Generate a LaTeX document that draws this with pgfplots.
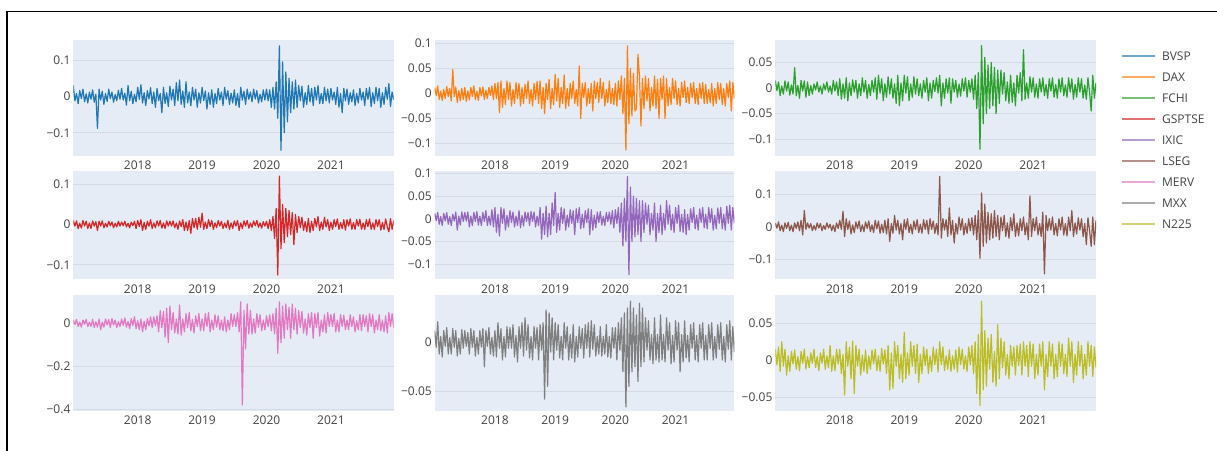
\documentclass[border=0pt]{standalone}
\usepackage{pgfplots}
\pgfplotsset{compat=1.18}
\usepackage{pgfplotstable}
\usepackage{fontspec}
\setmainfont{Open Sans}
\definecolor{c1}{HTML}{1F77B4}
\definecolor{c2}{HTML}{FF7F0E}
\definecolor{c3}{HTML}{2CA02C}
\definecolor{c4}{HTML}{D62728}
\definecolor{c5}{HTML}{9467BD}
\definecolor{c6}{HTML}{8C564B}
\definecolor{c7}{HTML}{E377C2}
\definecolor{c8}{HTML}{7F7F7F}
\definecolor{c9}{HTML}{BCBD22}
\definecolor{bgc}{HTML}{E5ECF6}
\definecolor{gridc}{HTML}{D5DBE4}
\definecolor{tickc}{HTML}{444444}

\pgfplotstableread[header=false,row sep=\\]{
0.03\\-0.012\\0.008\\-0.02\\0.016\\-0.006\\0.02\\-0.015\\0.007\\-0.018\\
0.012\\-0.008\\0.018\\-0.016\\0.006\\-0.088\\0.02\\-0.01\\0.014\\-0.022\\
0.008\\-0.014\\0.02\\-0.006\\0.012\\-0.016\\0.005\\-0.012\\0.017\\-0.008\\
0.022\\-0.01\\0.009\\-0.024\\0.03\\-0.012\\0.014\\-0.02\\0.006\\-0.015\\
0.025\\-0.008\\0.032\\-0.018\\0.01\\-0.025\\0.016\\-0.007\\0.024\\-0.02\\
0.012\\-0.03\\0.022\\-0.012\\0.008\\-0.045\\0.025\\-0.02\\0.01\\-0.028\\
0.028\\-0.01\\0.02\\-0.025\\0.038\\-0.012\\0.045\\-0.022\\0.015\\-0.03\\
0.04\\-0.018\\0.012\\-0.026\\0.025\\-0.01\\0.02\\-0.03\\0.01\\-0.018\\
0.025\\-0.012\\0.015\\-0.035\\0.01\\-0.022\\0.018\\-0.03\\0.008\\-0.02\\
0.022\\-0.01\\0.012\\-0.025\\0.025\\-0.008\\0.016\\-0.022\\0.009\\-0.018\\
0.018\\-0.025\\0.008\\-0.03\\0.025\\-0.01\\0.014\\-0.022\\0.02\\-0.008\\
0.012\\-0.015\\0.02\\-0.007\\0.016\\-0.018\\0.006\\-0.015\\0.018\\-0.01\\
0.02\\-0.012\\0.018\\-0.03\\0.025\\-0.035\\0.04\\-0.06\\0.139\\-0.148\\
0.095\\-0.1\\0.067\\-0.07\\0.05\\-0.045\\0.04\\-0.035\\0.045\\-0.03\\
0.03\\-0.012\\0.028\\-0.03\\0.01\\-0.022\\0.03\\-0.015\\0.022\\-0.025\\
0.025\\-0.01\\0.03\\-0.02\\0.008\\-0.02\\0.025\\-0.012\\0.02\\-0.018\\
0.022\\-0.01\\0.012\\-0.022\\0.025\\-0.03\\0.008\\-0.045\\0.022\\-0.012\\
0.02\\-0.022\\0.01\\-0.015\\0.018\\-0.025\\0.008\\-0.018\\0.022\\-0.01\\
0.012\\-0.025\\0.022\\-0.008\\0.025\\-0.028\\0.01\\-0.02\\0.025\\-0.012\\
0.022\\-0.03\\0.01\\-0.022\\0.025\\-0.008\\0.035\\-0.028\\0.012\\-0.01\\
}\bvsp

\pgfplotstableread[header=false,row sep=\\]{
0.012\\-0.004\\0.015\\-0.012\\0.005\\-0.014\\0.008\\-0.01\\0.014\\-0.006\\
0.01\\-0.015\\0.048\\-0.006\\0.013\\-0.018\\0.006\\-0.015\\0.01\\-0.012\\
0.012\\-0.016\\0.005\\-0.013\\0.012\\-0.006\\0.015\\-0.012\\0.004\\-0.014\\
0.012\\-0.005\\0.013\\-0.012\\0.006\\-0.01\\0.012\\-0.004\\0.015\\-0.012\\
0.02\\-0.01\\0.022\\-0.038\\0.025\\-0.028\\0.01\\-0.022\\0.025\\-0.012\\
0.022\\-0.025\\0.008\\-0.02\\0.022\\-0.01\\0.02\\-0.025\\0.012\\-0.02\\
0.018\\-0.01\\0.025\\-0.02\\0.008\\-0.025\\0.02\\-0.012\\0.024\\-0.02\\
0.025\\-0.03\\0.012\\-0.04\\0.02\\-0.012\\0.028\\-0.03\\0.01\\-0.022\\
0.038\\-0.015\\0.03\\-0.028\\0.012\\-0.02\\0.037\\-0.03\\0.01\\-0.025\\
0.02\\-0.01\\0.025\\-0.02\\0.008\\-0.025\\0.055\\-0.05\\0.02\\-0.008\\
0.022\\-0.025\\0.01\\-0.02\\0.02\\-0.035\\0.025\\-0.01\\0.022\\-0.018\\
0.03\\-0.01\\0.022\\-0.025\\0.008\\-0.018\\0.025\\-0.02\\0.01\\-0.022\\
0.02\\-0.025\\0.025\\-0.012\\0.035\\-0.04\\0.03\\-0.113\\0.095\\-0.06\\
0.05\\-0.045\\0.04\\-0.035\\-0.03\\0.078\\0.035\\-0.065\\0.03\\-0.03\\
0.035\\-0.015\\0.03\\-0.035\\0.012\\-0.025\\0.035\\-0.03\\0.028\\-0.05\\
0.03\\-0.012\\0.035\\-0.05\\0.03\\-0.025\\0.012\\-0.022\\0.03\\-0.01\\
0.025\\-0.022\\0.01\\-0.025\\0.022\\-0.008\\0.025\\-0.018\\0.012\\-0.02\\
0.02\\-0.008\\0.022\\-0.02\\0.01\\-0.022\\0.02\\-0.01\\0.022\\-0.02\\
0.018\\-0.02\\0.008\\-0.018\\0.02\\-0.025\\0.01\\-0.02\\0.022\\-0.012\\
0.02\\-0.022\\0.01\\-0.025\\0.02\\-0.008\\0.025\\-0.035\\0.022\\-0.01\\
}\dax

\pgfplotstableread[header=false,row sep=\\]{
0.015\\-0.005\\0.012\\-0.015\\0.004\\-0.012\\0.014\\-0.006\\0.012\\-0.014\\
0.006\\-0.012\\0.04\\-0.015\\0.005\\-0.02\\0.015\\-0.006\\0.014\\-0.018\\
0.012\\-0.015\\0.005\\-0.012\\0.008\\-0.004\\0.012\\-0.008\\0.004\\-0.012\\
0.008\\-0.004\\0.012\\-0.008\\0.004\\-0.012\\0.015\\-0.006\\0.012\\-0.015\\
0.018\\-0.022\\0.008\\-0.02\\0.02\\-0.025\\0.01\\-0.015\\0.016\\-0.008\\
0.015\\-0.02\\0.008\\-0.015\\0.02\\-0.008\\0.015\\-0.02\\0.007\\-0.015\\
0.015\\-0.008\\0.02\\-0.022\\0.025\\-0.01\\0.018\\-0.025\\0.008\\-0.018\\
0.022\\-0.012\\0.018\\-0.02\\0.008\\-0.03\\0.025\\-0.035\\0.01\\-0.025\\
0.025\\-0.01\\0.022\\-0.025\\0.008\\-0.018\\0.022\\-0.012\\0.018\\-0.015\\
0.008\\-0.02\\0.015\\-0.008\\0.02\\-0.025\\0.01\\-0.02\\0.015\\-0.007\\
0.02\\-0.01\\0.025\\-0.035\\0.01\\-0.02\\0.018\\-0.01\\0.02\\-0.03\\
0.018\\-0.008\\0.015\\-0.018\\0.008\\-0.016\\0.018\\-0.006\\0.02\\-0.018\\
0.015\\-0.008\\0.018\\-0.022\\0.025\\-0.04\\0.03\\-0.12\\0.083\\-0.07\\
0.06\\-0.05\\0.045\\-0.04\\0.05\\-0.035\\0.04\\-0.05\\0.035\\-0.03\\
0.035\\-0.012\\0.03\\-0.025\\0.012\\-0.03\\0.025\\-0.028\\0.01\\-0.035\\
0.025\\-0.01\\0.03\\-0.025\\0.075\\-0.022\\0.01\\-0.02\\0.022\\-0.008\\
0.02\\-0.018\\0.008\\-0.02\\0.018\\-0.008\\0.02\\-0.015\\0.007\\-0.02\\
0.018\\-0.006\\0.02\\-0.018\\0.007\\-0.02\\0.018\\-0.008\\0.02\\-0.015\\
0.006\\-0.018\\0.02\\-0.008\\0.018\\-0.022\\0.007\\-0.018\\0.02\\-0.008\\
0.018\\-0.02\\0.006\\-0.022\\0.02\\-0.008\\-0.045\\0.025\\-0.02\\0.01\\
}\fchi

\pgfplotstableread[header=false,row sep=\\]{
0.01\\-0.004\\0.009\\-0.01\\0.003\\-0.009\\0.01\\-0.004\\0.008\\-0.01\\
0.004\\-0.01\\0.009\\-0.004\\0.007\\-0.015\\0.008\\-0.004\\0.009\\-0.008\\
0.003\\-0.006\\0.008\\-0.003\\0.006\\-0.008\\0.003\\-0.006\\0.008\\-0.004\\
0.006\\-0.003\\0.008\\-0.006\\0.003\\-0.008\\0.006\\-0.003\\0.008\\-0.01\\
0.01\\-0.005\\0.012\\-0.015\\0.005\\-0.012\\0.008\\-0.004\\0.012\\-0.01\\
0.004\\-0.008\\0.009\\-0.004\\0.01\\-0.009\\0.004\\-0.01\\0.009\\-0.004\\
0.008\\-0.004\\0.009\\-0.008\\0.004\\-0.012\\0.009\\-0.005\\0.012\\-0.015\\
0.006\\-0.015\\0.01\\-0.022\\0.015\\-0.008\\0.015\\-0.012\\0.018\\-0.007\\
0.028\\-0.012\\0.006\\-0.01\\0.012\\-0.005\\0.01\\-0.012\\0.004\\-0.008\\
0.01\\-0.004\\0.008\\-0.01\\0.004\\-0.008\\0.01\\-0.012\\0.004\\-0.01\\
0.009\\-0.004\\0.01\\-0.015\\0.004\\-0.01\\0.009\\-0.004\\0.01\\-0.009\\
0.004\\-0.007\\0.009\\-0.003\\0.01\\-0.007\\0.004\\-0.009\\0.007\\-0.004\\
0.008\\-0.01\\0.012\\-0.015\\0.02\\-0.035\\0.04\\-0.125\\0.12\\-0.06\\
0.05\\-0.045\\0.04\\-0.03\\0.035\\-0.025\\0.03\\-0.05\\0.025\\-0.02\\
0.02\\-0.008\\0.018\\-0.015\\0.007\\-0.018\\0.015\\-0.02\\0.008\\-0.015\\
0.015\\-0.006\\0.02\\-0.015\\0.006\\-0.012\\0.018\\-0.006\\0.012\\-0.015\\
0.006\\-0.012\\0.012\\-0.005\\0.014\\-0.012\\0.005\\-0.01\\0.012\\-0.014\\
0.012\\-0.004\\0.014\\-0.012\\0.005\\-0.012\\0.012\\-0.004\\0.013\\-0.012\\
0.004\\-0.012\\0.012\\-0.005\\0.014\\-0.012\\0.004\\-0.012\\0.012\\-0.005\\
0.012\\-0.014\\0.005\\-0.012\\0.014\\-0.006\\-0.018\\0.015\\-0.012\\0.01\\
}\gsptse

\pgfplotstableread[header=false,row sep=\\]{
0.012\\-0.004\\0.014\\-0.012\\0.005\\-0.015\\0.012\\-0.005\\0.014\\-0.012\\
0.005\\-0.015\\0.01\\-0.005\\0.015\\-0.025\\0.006\\-0.014\\0.015\\-0.006\\
0.014\\-0.005\\0.015\\-0.018\\0.006\\-0.015\\0.014\\-0.006\\0.016\\-0.014\\
0.006\\-0.015\\0.014\\-0.006\\0.018\\-0.015\\0.006\\-0.014\\0.02\\-0.018\\
0.025\\-0.03\\0.01\\-0.038\\0.025\\-0.01\\0.022\\-0.025\\0.008\\-0.018\\
0.018\\-0.008\\0.015\\-0.018\\0.006\\-0.015\\0.018\\-0.02\\0.007\\-0.016\\
0.015\\-0.006\\0.014\\-0.015\\0.016\\-0.006\\0.015\\-0.018\\0.006\\-0.015\\
0.025\\-0.045\\0.012\\-0.035\\0.028\\-0.04\\0.012\\-0.035\\0.035\\-0.015\\
0.058\\-0.03\\0.012\\-0.025\\0.025\\-0.01\\0.022\\-0.025\\0.008\\-0.018\\
0.02\\-0.01\\0.018\\-0.035\\0.022\\-0.008\\0.025\\-0.022\\0.01\\-0.02\\
0.018\\-0.008\\0.022\\-0.035\\0.02\\-0.025\\0.008\\-0.02\\0.015\\-0.008\\
0.016\\-0.014\\0.006\\-0.015\\0.014\\-0.006\\0.015\\-0.012\\0.018\\-0.02\\
0.02\\-0.01\\0.025\\-0.03\\0.035\\-0.06\\0.045\\-0.05\\0.093\\-0.123\\
0.07\\-0.05\\0.05\\-0.04\\0.045\\-0.035\\0.04\\-0.05\\0.04\\-0.03\\
0.035\\-0.012\\0.03\\-0.035\\0.012\\-0.025\\0.035\\-0.05\\0.012\\-0.03\\
0.03\\-0.035\\0.012\\-0.025\\0.04\\-0.012\\0.03\\-0.025\\0.01\\-0.03\\
0.025\\-0.01\\0.03\\-0.028\\0.01\\-0.03\\0.02\\-0.035\\0.01\\-0.025\\
0.022\\-0.008\\0.025\\-0.022\\0.008\\-0.025\\0.022\\-0.008\\0.025\\-0.02\\
0.01\\-0.022\\0.025\\-0.008\\0.022\\-0.025\\0.008\\-0.022\\0.024\\-0.01\\
0.025\\-0.022\\0.01\\-0.025\\0.028\\-0.01\\0.03\\-0.025\\0.025\\-0.01\\
}\ixic

\pgfplotstableread[header=false,row sep=\\]{
0.012\\-0.004\\0.015\\-0.012\\0.005\\-0.015\\0.012\\-0.005\\0.014\\-0.012\\
0.005\\-0.015\\0.012\\-0.005\\0.015\\-0.012\\0.02\\-0.025\\0.05\\-0.008\\
0.012\\-0.004\\0.01\\-0.012\\0.004\\-0.01\\0.012\\-0.004\\0.01\\-0.012\\
0.004\\-0.008\\0.012\\-0.004\\0.008\\-0.012\\0.005\\-0.015\\0.012\\-0.005\\
0.02\\-0.008\\0.048\\-0.03\\0.025\\-0.008\\0.018\\-0.022\\0.006\\-0.018\\
0.015\\-0.005\\0.018\\-0.015\\0.006\\-0.015\\0.015\\-0.005\\0.018\\-0.015\\
0.006\\-0.018\\0.02\\-0.006\\0.018\\-0.02\\0.008\\-0.018\\0.02\\-0.022\\
0.025\\-0.045\\0.01\\-0.02\\0.035\\-0.01\\0.02\\-0.022\\0.01\\-0.04\\
0.022\\-0.008\\0.025\\-0.018\\0.008\\-0.022\\0.018\\-0.008\\0.022\\-0.018\\
0.008\\-0.02\\0.022\\-0.008\\0.02\\-0.022\\0.025\\-0.008\\0.018\\-0.02\\
0.01\\-0.025\\0.155\\-0.035\\0.025\\-0.01\\0.022\\-0.03\\0.058\\-0.025\\
0.02\\-0.05\\0.01\\-0.022\\0.03\\-0.01\\0.025\\-0.025\\0.01\\-0.02\\
0.025\\-0.012\\0.028\\-0.025\\0.035\\-0.04\\0.05\\-0.097\\0.104\\-0.06\\
0.07\\-0.05\\0.045\\-0.04\\0.04\\-0.035\\0.05\\-0.03\\0.035\\-0.04\\
0.03\\-0.012\\0.035\\-0.03\\0.012\\-0.035\\0.028\\-0.012\\0.04\\-0.03\\
0.012\\-0.028\\0.025\\-0.012\\0.03\\-0.025\\0.012\\-0.04\\0.095\\-0.03\\
0.025\\-0.012\\0.03\\-0.025\\0.01\\-0.03\\0.045\\-0.145\\0.035\\-0.012\\
0.025\\-0.01\\0.03\\-0.025\\0.01\\-0.028\\0.025\\-0.01\\0.03\\-0.025\\
0.01\\-0.028\\0.03\\-0.012\\0.05\\-0.03\\0.012\\-0.022\\0.028\\-0.01\\
0.025\\-0.03\\0.01\\-0.055\\0.028\\-0.012\\-0.06\\0.03\\-0.055\\0.02\\
}\lseg

\pgfplotstableread[header=false,row sep=\\]{
0.015\\-0.006\\0.018\\-0.015\\0.006\\-0.018\\0.015\\-0.005\\0.018\\-0.015\\
0.006\\-0.015\\0.018\\-0.02\\0.007\\-0.018\\0.02\\-0.03\\0.006\\-0.018\\
0.02\\-0.008\\0.018\\-0.02\\0.022\\-0.008\\0.015\\-0.02\\0.008\\-0.015\\
0.02\\-0.01\\0.025\\-0.018\\0.008\\-0.025\\0.022\\-0.01\\0.03\\-0.025\\
0.012\\-0.03\\0.02\\-0.04\\0.01\\-0.03\\0.022\\-0.012\\0.03\\-0.02\\
0.03\\-0.012\\0.035\\-0.04\\0.06\\-0.02\\0.055\\-0.065\\0.07\\-0.09\\
0.08\\-0.03\\0.05\\-0.045\\0.02\\-0.05\\0.085\\-0.055\\0.02\\-0.04\\
0.045\\-0.02\\0.05\\-0.035\\0.018\\-0.045\\0.035\\-0.015\\0.045\\-0.035\\
0.02\\-0.035\\0.045\\-0.015\\0.05\\-0.04\\0.015\\-0.03\\0.04\\-0.018\\
0.035\\-0.03\\0.015\\-0.035\\0.03\\-0.04\\0.015\\-0.03\\0.045\\-0.015\\
0.04\\-0.015\\0.05\\-0.04\\0.1\\-0.38\\0.06\\-0.12\\0.09\\-0.05\\
0.06\\-0.05\\0.02\\-0.045\\0.045\\-0.018\\0.04\\-0.035\\0.015\\-0.03\\
0.035\\-0.015\\0.04\\-0.035\\0.045\\-0.05\\0.07\\-0.14\\0.1\\-0.09\\
0.08\\-0.07\\0.09\\-0.03\\0.075\\-0.07\\0.09\\-0.03\\0.07\\-0.05\\
0.06\\-0.02\\0.055\\-0.045\\0.02\\-0.055\\0.045\\-0.02\\0.05\\-0.07\\
0.045\\-0.02\\0.05\\-0.06\\0.015\\-0.04\\0.04\\-0.045\\0.05\\-0.015\\
0.04\\-0.015\\0.045\\-0.04\\0.015\\-0.04\\0.04\\-0.015\\0.038\\-0.03\\
0.015\\-0.03\\0.04\\-0.015\\0.03\\-0.04\\0.012\\-0.03\\0.04\\-0.035\\
0.04\\-0.015\\0.035\\-0.04\\0.045\\-0.015\\0.04\\-0.045\\0.015\\-0.03\\
0.04\\-0.035\\0.015\\-0.04\\0.035\\-0.045\\0.05\\-0.015\\0.045\\-0.02\\
}\merv

\pgfplotstableread[header=false,row sep=\\]{
0.012\\-0.005\\0.021\\-0.012\\0.006\\-0.015\\0.012\\-0.004\\0.015\\-0.012\\
0.005\\-0.012\\0.014\\-0.005\\0.012\\-0.014\\0.004\\-0.012\\0.013\\-0.006\\
0.012\\-0.004\\0.01\\-0.012\\0.014\\-0.005\\0.012\\-0.014\\0.005\\-0.012\\
0.012\\-0.005\\0.014\\-0.025\\0.012\\-0.004\\0.015\\-0.012\\0.005\\-0.014\\
0.012\\-0.015\\0.02\\-0.006\\0.014\\-0.018\\0.006\\-0.015\\0.016\\-0.006\\
0.015\\-0.006\\0.018\\-0.015\\0.007\\-0.02\\0.016\\-0.006\\0.02\\-0.014\\
0.025\\-0.008\\0.018\\-0.016\\0.006\\-0.018\\0.016\\-0.006\\0.015\\-0.018\\
0.018\\-0.008\\0.02\\-0.058\\0.033\\-0.045\\0.03\\-0.01\\0.025\\-0.018\\
0.02\\-0.008\\0.018\\-0.016\\0.006\\-0.018\\0.02\\-0.006\\0.016\\-0.018\\
0.008\\-0.016\\0.018\\-0.02\\0.006\\-0.015\\0.016\\-0.006\\0.014\\-0.016\\
0.018\\-0.006\\0.02\\-0.015\\0.022\\-0.007\\0.018\\-0.014\\0.006\\-0.012\\
0.016\\-0.014\\0.006\\-0.012\\0.018\\-0.015\\0.006\\-0.016\\0.015\\-0.006\\
0.015\\-0.018\\0.02\\-0.008\\0.025\\-0.03\\0.03\\-0.066\\0.035\\-0.045\\
0.042\\-0.03\\0.035\\-0.025\\0.028\\-0.04\\0.04\\-0.025\\0.035\\-0.02\\
0.025\\-0.008\\0.022\\-0.018\\0.008\\-0.022\\0.025\\-0.018\\0.008\\-0.02\\
0.028\\-0.018\\0.008\\-0.02\\0.025\\-0.008\\0.02\\-0.022\\0.007\\-0.02\\
0.022\\-0.008\\0.02\\-0.03\\0.008\\-0.02\\0.022\\-0.016\\0.007\\-0.02\\
0.018\\-0.006\\0.02\\-0.018\\0.007\\-0.02\\0.018\\-0.006\\0.02\\-0.018\\
0.007\\-0.018\\0.018\\-0.006\\0.02\\-0.018\\0.006\\-0.016\\0.018\\-0.007\\
0.02\\-0.018\\0.006\\-0.02\\0.018\\-0.007\\0.022\\-0.018\\0.016\\-0.01\\
}\mxx

\pgfplotstableread[header=false,row sep=\\]{
0.015\\-0.006\\0.018\\-0.015\\0.025\\-0.008\\0.015\\-0.02\\0.006\\-0.015\\
0.012\\-0.005\\0.014\\-0.012\\0.005\\-0.014\\0.012\\-0.004\\0.015\\-0.012\\
0.005\\-0.01\\0.01\\-0.004\\0.015\\-0.01\\0.005\\-0.014\\0.01\\-0.004\\
0.015\\-0.012\\0.006\\-0.01\\0.02\\-0.015\\0.006\\-0.014\\0.015\\-0.005\\
0.015\\-0.018\\0.008\\-0.047\\0.025\\-0.008\\0.018\\-0.025\\0.026\\-0.045\\
0.02\\-0.008\\0.015\\-0.02\\0.007\\-0.015\\0.014\\-0.018\\0.006\\-0.012\\
0.014\\-0.005\\0.015\\-0.014\\0.006\\-0.015\\0.016\\-0.005\\0.014\\-0.018\\
0.02\\-0.04\\0.01\\-0.038\\0.025\\-0.008\\0.02\\-0.025\\0.008\\-0.03\\
0.038\\-0.025\\0.01\\-0.02\\0.025\\-0.008\\0.02\\-0.018\\0.022\\-0.03\\
0.008\\-0.018\\0.018\\-0.007\\0.015\\-0.018\\0.006\\-0.015\\0.018\\-0.006\\
0.015\\-0.016\\0.025\\-0.006\\0.018\\-0.014\\0.006\\-0.012\\0.014\\-0.015\\
0.006\\-0.012\\0.014\\-0.016\\0.018\\-0.006\\0.015\\-0.012\\0.006\\-0.015\\
0.018\\-0.006\\0.02\\-0.018\\0.025\\-0.045\\0.035\\-0.061\\0.08\\-0.04\\
0.04\\-0.035\\0.03\\-0.012\\0.035\\-0.03\\0.012\\-0.035\\0.048\\-0.025\\
0.03\\-0.01\\0.025\\-0.02\\0.008\\-0.025\\0.02\\-0.008\\0.018\\-0.02\\
0.02\\-0.007\\0.022\\-0.02\\0.025\\-0.008\\0.02\\-0.022\\0.025\\-0.008\\
0.022\\-0.025\\0.008\\-0.02\\0.022\\-0.008\\0.025\\-0.04\\0.008\\-0.022\\
0.025\\-0.008\\0.022\\-0.025\\0.008\\-0.022\\0.025\\-0.008\\0.022\\-0.018\\
0.008\\-0.022\\0.03\\-0.008\\0.025\\-0.03\\0.008\\-0.02\\0.025\\-0.008\\
0.02\\-0.025\\0.008\\-0.02\\0.025\\-0.008\\0.02\\-0.022\\0.018\\-0.01\\
}\nikkei

\pgfplotsset{
  panel/.style={
    scale only axis, anchor=south west,
    axis background/.style={fill=bgc},
    axis line style={draw=none},
    major tick length=0pt,
    xtick style={draw=none}, ytick style={draw=none},
    scaled ticks=false,
    xmin=0, xmax=199,
    xtick={40,80,120,160}, xticklabels={2018,2019,2020,2021},
    ymajorgrids, xmajorgrids=false,
    grid style={gridc, line width=0.75pt},
    tick label style={font=\fontsize{9}{10}\selectfont, text=tickc},
    xticklabel style={anchor=north, inner sep=0pt, yshift=-3.75pt},
    yticklabel style={anchor=east, inner sep=0pt, xshift=-2pt},
  },
  lw/.style={line width=0.9pt, line join=round},
}

\begin{document}
\begin{tikzpicture}
\useasboundingbox (0pt,0pt) rectangle (912.75pt,337.5pt);
\fill[white] (0pt,0pt) rectangle (912.75pt,337.5pt);
\draw[black, line width=1.25pt] (5.4pt,-2pt) -- (5.4pt,328.8pt) -- (915pt,328.8pt);

% row 1
\begin{axis}[panel, at={(54.975pt,220.725pt)}, width=240.3pt, height=86.775pt,
  ymin=-0.163, ymax=0.155, ytick={-0.1,0,0.1}, yticklabels={−0.1,0,0.1}]
\addplot[c1, lw] table[x expr=\coordindex, y index=0]{\bvsp};
\end{axis}
\begin{axis}[panel, at={(326.025pt,220.725pt)}, width=224.7pt, height=86.775pt,
  ymin=-0.124, ymax=0.1066, ytick={-0.1,-0.05,0,0.05,0.1}, yticklabels={−0.1,−0.05,0,0.05,0.1}]
\addplot[c2, lw] table[x expr=\coordindex, y index=0]{\dax};
\end{axis}
\begin{axis}[panel, at={(581.475pt,220.725pt)}, width=240.525pt, height=86.775pt,
  ymin=-0.1325, ymax=0.094, ytick={-0.1,-0.05,0,0.05}, yticklabels={−0.1,−0.05,0,0.05}]
\addplot[c3, lw] table[x expr=\coordindex, y index=0]{\fchi};
\end{axis}

% row 2
\begin{axis}[panel, at={(54.975pt,128.025pt)}, width=240.3pt, height=81.225pt,
  ymin=-0.1358, ymax=0.1326, ytick={-0.1,0,0.1}, yticklabels={−0.1,0,0.1}]
\addplot[c4, lw] table[x expr=\coordindex, y index=0]{\gsptse};
\end{axis}
\begin{axis}[panel, at={(326.025pt,128.025pt)}, width=224.7pt, height=81.225pt,
  ymin=-0.1334, ymax=0.1054, ytick={-0.1,-0.05,0,0.05,0.1}, yticklabels={−0.1,−0.05,0,0.05,0.1}]
\addplot[c5, lw] table[x expr=\coordindex, y index=0]{\ixic};
\end{axis}
\begin{axis}[panel, at={(581.475pt,128.025pt)}, width=240.525pt, height=81.225pt,
  ymin=-0.1615, ymax=0.1717, ytick={-0.1,0,0.1}, yticklabels={−0.1,0,0.1}]
\addplot[c6, lw] table[x expr=\coordindex, y index=0]{\lseg};
\end{axis}

% row 3
\begin{axis}[panel, at={(54.975pt,29.25pt)}, width=240.3pt, height=87pt,
  ymin=-0.408, ymax=0.1316, ytick={-0.4,-0.2,0}, yticklabels={−0.4,−0.2,0}]
\addplot[c7, lw] table[x expr=\coordindex, y index=0]{\merv};
\end{axis}
\begin{axis}[panel, at={(326.025pt,29.25pt)}, width=224.7pt, height=87pt,
  ymin=-0.0701, ymax=0.0483, ytick={-0.05,0}, yticklabels={−0.05,0}]
\addplot[c8, lw] table[x expr=\coordindex, y index=0]{\mxx};
\end{axis}
\begin{axis}[panel, at={(581.475pt,29.25pt)}, width=240.525pt, height=87pt,
  ymin=-0.0685, ymax=0.0882, ytick={-0.05,0,0.05}, yticklabels={−0.05,0,0.05}]
\addplot[c9, lw] table[x expr=\coordindex, y index=0]{\nikkei};
\end{axis}

% legend
\begin{axis}[at={(841.275pt,298.725pt)}, anchor=north west, hide axis, scale only axis,
  width=20pt, height=20pt, xmin=0, xmax=1, ymin=0, ymax=1,
  legend style={at={(0,1)}, anchor=north west, draw=none, fill=none,
    inner sep=0pt, outer sep=0pt, row sep=9.3pt, column sep=5pt,
    font=\fontsize{9}{10}\selectfont, text=tickc,
    nodes={inner sep=0pt, text height=6.45pt, text depth=0pt}},
  legend cell align=left,
  legend image code/.code={\draw[#1] (0pt,0pt) -- (24.5pt,0pt);}]
\addlegendimage{c1!65!white, line width=0.8pt}\addlegendentry{BVSP}
\addlegendimage{c2!65!white, line width=0.8pt}\addlegendentry{DAX}
\addlegendimage{c3!65!white, line width=0.8pt}\addlegendentry{FCHI}
\addlegendimage{c4!65!white, line width=0.8pt}\addlegendentry{GSPTSE}
\addlegendimage{c5!65!white, line width=0.8pt}\addlegendentry{IXIC}
\addlegendimage{c6!65!white, line width=0.8pt}\addlegendentry{LSEG}
\addlegendimage{c7!65!white, line width=0.8pt}\addlegendentry{MERV}
\addlegendimage{c8!65!white, line width=0.8pt}\addlegendentry{MXX}
\addlegendimage{c9!65!white, line width=0.8pt}\addlegendentry{N225}
\end{axis}
\end{tikzpicture}
\end{document}
